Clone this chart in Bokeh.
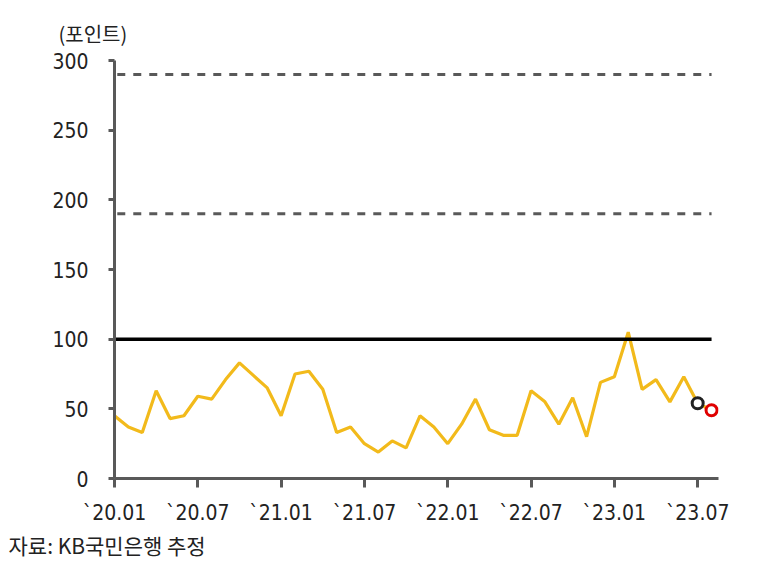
from bokeh.plotting import figure
from bokeh.models import FixedTicker, Range1d, Title
from bokeh.embed import file_html
from bokeh.resources import INLINE

months = [f"{y}.{m:02d}" for y in (2020, 2021, 2022, 2023) for m in range(1, 13)][:44]
values = [45, 37, 33, 63, 43, 45, 59, 57, 71, 83, 74, 65,
          45, 75, 77, 64, 33, 37, 25, 19, 27, 22, 45, 37,
          25, 39, 57, 35, 31, 31, 63, 55, 39, 58, 30, 69,
          73, 105, 64, 71, 55, 73, 54, 49]
tick_months = ["2020.01", "2020.07", "2021.01", "2021.07", "2022.01", "2022.07", "2023.01", "2023.07"]
tick_labels = ["`20.01", "`20.07", "`21.01", "`21.07", "`22.01", "`22.07", "`23.01", "`23.07"]
ref_levels = [100, 190, 290]
y_ticks = [0, 50, 100, 150, 200, 250, 300]

FONT = "Noto Sans CJK KR"
NUMFONT = "DejaVu Sans Condensed"
x = list(range(len(months)))

p = figure(width=741, height=559, output_backend="svg", toolbar_location=None,
           x_range=Range1d(0, 43.5), y_range=Range1d(0, 300),
           min_border_left=114, min_border_right=23, min_border_top=60, min_border_bottom=60)
p.outline_line_color = None
p.grid.visible = False
p.background_fill_color = "white"

last = len(months) - 1
p.line([0.2, last], [ref_levels[2]] * 2, line_color="#595959", line_width=3, line_dash="8 8")
p.line([0.2, last], [ref_levels[1]] * 2, line_color="#595959", line_width=3, line_dash="8 8")

p.line(x, values, line_color="#F2BA1B", line_width=3.2)
p.line([0, last], [ref_levels[0]] * 2, line_color="black", line_width=3.5)

p.scatter([x[-2]], [values[-2]], size=11, fill_color="white", line_color="#222222", line_width=3)
p.scatter([x[-1]], [values[-1]], size=11, fill_color="white", line_color="#E00000", line_width=3)

idx = {m: i for i, m in enumerate(months)}
xt = [idx[m] for m in tick_months]
p.xaxis.ticker = FixedTicker(ticks=xt)
p.xaxis.major_label_overrides = {t: l for t, l in zip(xt, tick_labels)}
p.xaxis.minor_tick_line_color = None
p.xaxis.major_tick_out = 9
p.xaxis.major_tick_in = 0
p.xaxis.axis_line_width = 3
p.xaxis.axis_line_color = "#595959"
p.xaxis.major_tick_line_color = "#595959"
p.xaxis.major_tick_line_width = 3
p.xaxis.major_label_text_font = NUMFONT
p.xaxis.major_label_text_font_size = "21px"
p.xaxis.major_label_text_color = "#222222"
p.xaxis.major_label_standoff = 13

p.yaxis.ticker = FixedTicker(ticks=y_ticks)
p.yaxis.minor_tick_line_color = None
p.yaxis.major_tick_out = 6
p.yaxis.major_tick_in = 0
p.yaxis.axis_line_width = 3
p.yaxis.axis_line_color = "#595959"
p.yaxis.major_tick_line_color = "#595959"
p.yaxis.major_tick_line_width = 3
p.yaxis.major_label_text_font = NUMFONT
p.yaxis.major_label_text_font_size = "21px"
p.yaxis.major_label_text_color = "#222222"
p.yaxis.major_label_standoff = 20

p.add_layout(Title(text="(포인트)", align="left", offset=-56, standoff=26,
                   text_font=FONT, text_font_size="20px", text_font_style="normal",
                   text_color="#222222"), "above")
p.add_layout(Title(text="자료: KB국민은행 추정", align="left", offset=-106, standoff=0,
                   text_font=FONT, text_font_size="21px", text_font_style="normal",
                   text_color="#222222"), "below")

open("out.html", "w").write(file_html(p, INLINE))
